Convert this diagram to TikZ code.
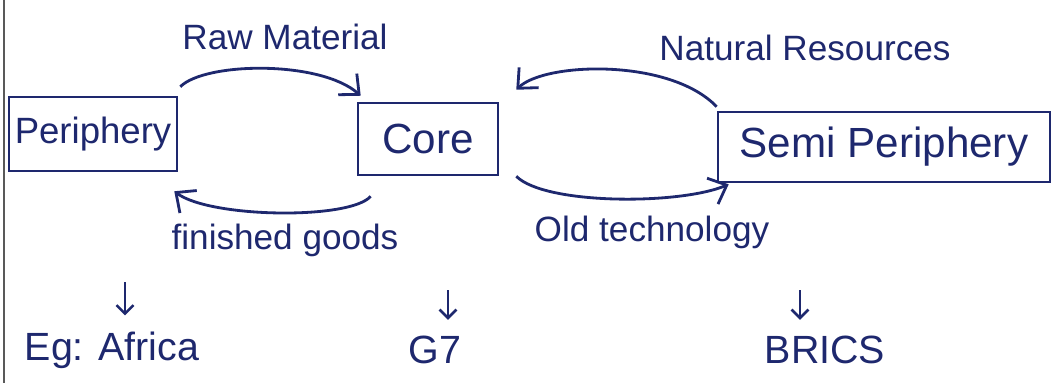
\documentclass[tikz,border=0pt]{standalone}
\usepackage{fontspec}
\setmainfont{Liberation Sans}
\usepackage{tikz}
\usetikzlibrary{calc,arrows.meta}
\definecolor{ink}{RGB}{30,40,110}

\begin{document}
\begin{tikzpicture}[x=0.025cm, y=-0.025cm,
  box/.style={draw=ink, line width=1.8pt, text=ink, inner sep=0pt, font=\fontsize{30}{34}\selectfont},
  lbl/.style={text=ink, inner sep=0pt, font=\fontsize{25}{30}\selectfont},
  flow/.style={draw=ink, line width=2pt, -{Straight Barb[length=11pt,width=20pt,line width=2pt]}},
  down/.style={draw=ink, line width=1.8pt, -{Straight Barb[length=6pt,width=12pt,line width=1.8pt]}}]
  \useasboundingbox (0,0) rectangle (1054,383);
  % page edge
  \draw[gray!70!black, line width=0.8pt] (4,0) -- (4,383);
  % boxes
  \node[box, minimum width=4.2cm, minimum height=1.85cm, font=\fontsize{26}{30}\selectfont] (peri) at (93,134) {Periphery};
  \node[box, minimum width=3.5cm, minimum height=1.8cm] (core) at (428,139) {Core};
  \node[box, minimum width=8.3cm, minimum height=1.75cm] (semi) at (884,147) {Semi Periphery};
  % flows
  \draw[flow] ($(peri.north east)+(2,-9)$) .. controls (205,62) and (320,60) .. ($(core.north west)+(4,-6)$);
  \node[lbl] (raw) at (285,37) {Raw Material};
  \draw[flow] ($(semi.north west)+(0,-4)$) .. controls (670,58) and (545,62) .. ($(core.north east)+(17,-12)$);
  \node[lbl] (nat) at (805,48) {Natural Resources};
  \draw[flow] ($(core.south west)+(14,20)$) .. controls (350,220) and (210,218) .. ($(peri.south east)+(-4,19)$);
  \node[lbl] (fin) at (285,240) {finished goods};
  \draw[flow] ($(core.south east)+(17,0)$) .. controls (545,205) and (680,205) .. ($(semi.south west)+(12,1)$);
  \node[lbl] (old) at (652,232) {Old technology};
  % examples
  \node[lbl, font=\fontsize{28}{32}\selectfont] (africa) at (112,350) {Eg: Africa};
  \node[lbl, font=\fontsize{28}{32}\selectfont] (gseven) at (435,350) {G7};
  \node[lbl, font=\fontsize{28}{32}\selectfont] (brics) at (825,350) {BRICS};
  \coordinate (a1) at (125,282);
  \coordinate (a2) at (448,290);
  \coordinate (a3) at (800,290);
  \draw[down] (a1) -- ($(a1 |- africa.north)+(0,-16)$);
  \draw[down] (a2) -- ($(a2 |- gseven.north)+(0,-16)$);
  \draw[down] (a3) -- ($(a3 |- brics.north)+(0,-16)$);
\end{tikzpicture}
\end{document}
